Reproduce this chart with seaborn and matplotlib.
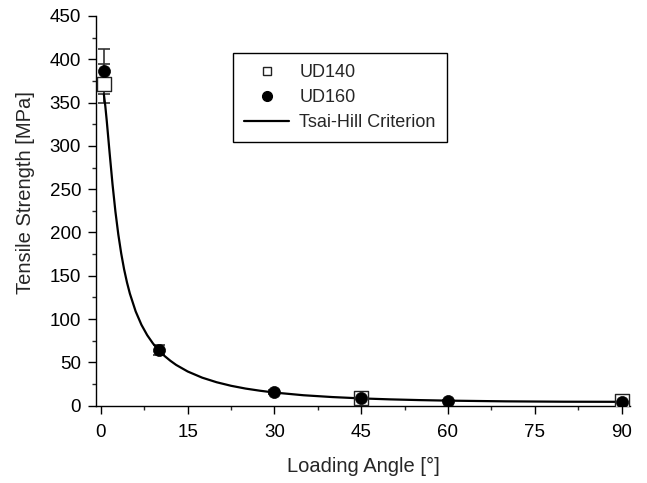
import matplotlib
matplotlib.use("Agg")
import matplotlib.pyplot as plt
import seaborn as sns
import pandas as pd
from matplotlib.ticker import MultipleLocator
from matplotlib.lines import Line2D

# Data
ud140_angle = [0.5, 45, 90]
ud140_strength = [372, 9, 5]
ud140_err = [23, 3, 2]

ud160_angle = [0.5, 10, 30, 45, 60, 90]
ud160_strength = [386, 64, 16, 9, 6, 4]
ud160_err = [26, 6, 2, 2, 1, 1]

curve_angle = [0.5, 0.75, 1, 1.5, 2, 2.5, 3, 3.5, 4, 4.5, 5, 6, 7, 8, 9, 10, 11, 12, 13, 15,
               17.5, 20, 22.5, 25, 27.5, 30, 35, 40, 45, 50, 55, 60, 70, 80, 90]
curve_strength = [359.7, 346.0, 329.0, 291.6, 255.6, 224.1, 197.7, 175.8, 157.5, 142.3, 129.4,
                  108.9, 93.4, 81.4, 71.8, 63.9, 57.4, 51.9, 47.1, 39.5, 32.4, 27.1, 23.0,
                  19.8, 17.3, 15.2, 12.1, 10.0, 8.45, 7.33, 6.5, 5.87, 5.05, 4.63, 4.5]

x_ticks = [0, 15, 30, 45, 60, 75, 90]
y_ticks = [0, 50, 100, 150, 200, 250, 300, 350, 400, 450]

sns.set_style("ticks")
plt.rcParams['font.family'] = ['Liberation Sans', 'DejaVu Sans']

fig = plt.figure(figsize=(6.47, 4.83), dpi=100)
ax = fig.add_axes([0.148, 0.16, 0.826, 0.807])

df_curve = pd.DataFrame({"angle": curve_angle, "strength": curve_strength})
df140 = pd.DataFrame({"angle": ud140_angle, "strength": ud140_strength})
df160 = pd.DataFrame({"angle": ud160_angle, "strength": ud160_strength})

# error bars
ax.errorbar(ud140_angle, ud140_strength, yerr=ud140_err, fmt='none', ecolor='#333333',
            elinewidth=1.2, capsize=4, capthick=1.2, zorder=2)
ax.errorbar(ud160_angle, ud160_strength, yerr=ud160_err, fmt='none', ecolor='#333333',
            elinewidth=1.2, capsize=4, capthick=1.2, zorder=2)

sns.lineplot(data=df_curve, x="angle", y="strength", ax=ax, color='black', lw=1.6,
             zorder=3, legend=False)
sns.scatterplot(data=df140, x="angle", y="strength", ax=ax, marker='s', s=90,
                facecolor='white', edgecolor='#222222', linewidth=1.0, zorder=4, legend=False)
sns.scatterplot(data=df160, x="angle", y="strength", ax=ax, marker='o', s=75,
                color='black', edgecolor='black', linewidth=0.5, zorder=5, legend=False)

ax.set_xlim(-0.9, 91.5)
ax.set_ylim(0, 450)
ax.set_xticks(x_ticks)
ax.set_yticks(y_ticks)
ax.xaxis.set_minor_locator(MultipleLocator(7.5))
ax.yaxis.set_minor_locator(MultipleLocator(25))
ax.tick_params(axis='both', which='major', direction='out', length=5.5, width=1, labelsize=13.5,
               colors='black')
ax.tick_params(axis='x', which='major', pad=8)
ax.tick_params(axis='y', which='major', pad=5)
ax.tick_params(axis='both', which='minor', direction='out', length=3, width=1)
sns.despine(ax=ax)
for sp in ['left', 'bottom']:
    ax.spines[sp].set_color('black')
    ax.spines[sp].set_linewidth(1.0)

ax.set_xlabel("Loading Angle [°]", fontsize=14.5, labelpad=11)
ax.set_ylabel("Tensile Strength [MPa]", fontsize=14.5)
ax.yaxis.set_label_coords(-0.114, 0.547)

handles = [
    Line2D([], [], marker='s', ls='none', markerfacecolor='white', markeredgecolor='#222222',
           markersize=6),
    Line2D([], [], marker='o', ls='none', color='black', markersize=7),
    Line2D([], [], color='black', lw=1.6),
]
leg = ax.legend(handles, ["UD140", "UD160", "Tsai-Hill Criterion"], loc='upper left',
                bbox_to_anchor=(0.257, 0.905), borderaxespad=0, fontsize=13, frameon=True,
                fancybox=False, edgecolor='black', framealpha=1, handlelength=2.5,
                handletextpad=0.55, borderpad=0.62, labelspacing=0.44)
leg.get_frame().set_linewidth(1.0)

fig.savefig("out.png", dpi=100)
